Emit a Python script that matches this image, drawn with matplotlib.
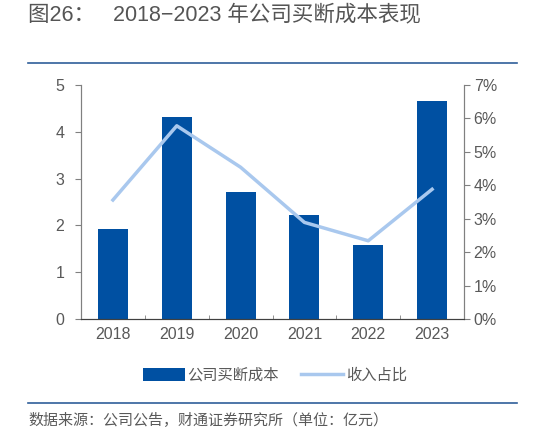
import matplotlib.pyplot as plt
import numpy as np
from matplotlib.lines import Line2D
from matplotlib.patches import Patch

plt.rcParams['font.family'] = ['Liberation Sans', 'Noto Sans CJK SC', 'DejaVu Sans']

# datos
years = ['2018', '2019', '2020', '2021', '2022', '2023']
cost = [1.92, 4.31, 2.72, 2.23, 1.58, 4.65]          # 亿元
ratio = [3.56, 5.78, 4.54, 2.89, 2.34, 3.88]         # %

bar_color = '#0050A2'
line_color = '#A9C8EE'
grey = '#595959'

fig = plt.figure(figsize=(5.33, 4.33), dpi=100)
ax = fig.add_axes([81/533, 1 - 319/433, 383/533, 234/433])
x = np.arange(len(years))

ax.bar(x, cost, width=0.47, color=bar_color, zorder=2)
ax.set_xlim(-0.5, 5.5)
ax.set_ylim(0, 5)
ax.set_yticks(range(6))
ax.set_xticks(x)
ax.set_xticklabels(years)
ax.set_xticks(np.arange(0.5, 5.5, 1), minor=True)
ax.tick_params(axis='x', which='major', length=0, pad=6, labelsize=11.5, labelcolor=grey)
ax.tick_params(axis='x', which='minor', direction='in', length=3, color='#808080')
ax.tick_params(axis='y', direction='out', length=4, color='#808080', labelsize=11.5, labelcolor=grey, pad=8)

ax2 = ax.twinx()
ax2.plot(x, ratio, color=line_color, lw=2.5, zorder=3)
ax2.set_ylim(0, 7)
ax2.set_yticks(range(8))
ax2.set_yticklabels([f'{i}%' for i in range(8)])
ax2.tick_params(axis='y', direction='out', length=4, color='#808080', labelsize=11.5, labelcolor=grey, pad=3)

for a in (ax, ax2):
    a.spines['top'].set_visible(False)
    a.spines['left'].set_color('#808080')
    a.spines['right'].set_color('#808080')
    a.spines['bottom'].set_color('#404040')

handles = [Patch(facecolor=bar_color, label='公司买断成本'),
           Line2D([0], [0], color=line_color, lw=2.5, label='收入占比')]
fig.legend(handles=handles, loc='center', bbox_to_anchor=(275/533, 1 - 375/433), ncol=2,
           frameon=False, labelcolor=grey, handlelength=2.7,
           handletextpad=0.2, columnspacing=1.45, handleheight=0.9,
           prop={'family': ['Noto Sans CJK SC'], 'size': 11})

fig.text(28/533, 1 - 15/433, '图26：   2018−2023 年公司买断成本表现', fontsize=15.5,
         color='#555555', va='center', ha='left', family=['Liberation Sans', 'Noto Sans CJK SC'])
fig.add_artist(Line2D([28/533, 517/533], [1 - 62.7/433] * 2, color='#2F5F9A', lw=1.2))
fig.add_artist(Line2D([28/533, 517/533], [1 - 402.7/433] * 2, color='#2F5F9A', lw=1.2))
fig.text(28/533, 1 - 420/433, '数据来源：公司公告，财通证券研究所（单位：亿元）', fontsize=10.8,
         color=grey, va='center', ha='left', family=['Noto Sans CJK SC'])

fig.savefig('out.png', dpi=100)
